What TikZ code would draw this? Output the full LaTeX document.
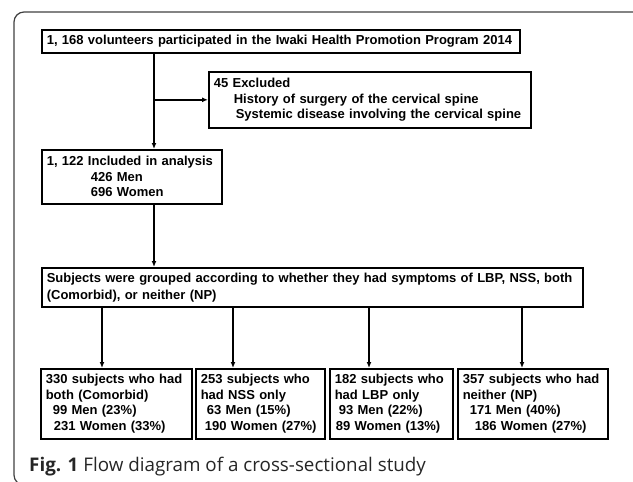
\documentclass[tikz,border=0pt]{standalone}
\usepackage{fontspec}
\setmainfont{Liberation Sans}
\newfontfamily\captionfont{Open Sans}
\usetikzlibrary{arrows.meta}

\begin{document}
\begin{tikzpicture}[x=1pt, y=-1pt,
	flowbox/.style={draw, line width=1.6pt, anchor=north west, inner xsep=5pt, inner ysep=0pt,
		align=left, font=\fontsize{13}{15.5}\selectfont\bfseries},
	groupbox/.style={flowbox, minimum height=70pt},
	flowline/.style={line width=1.4pt, -{Latex[length=6pt, width=5pt]}}]
	\useasboundingbox (0,0) rectangle (633,482);
	\draw[line width=1.2pt, draw=black!75, rounded corners=10pt] (14,12) rectangle (660,485);

	% Define volunteers, excluded and included
	\node[flowbox, text width=468pt, minimum height=23pt] (Volunteers) at (41,29)
		{1, 168 volunteers participated in the Iwaki Health Promotion Program 2014};
	\node[flowbox, text width=312pt, minimum height=56pt] (Excluded) at (208,71)
		{45 Excluded\\ \hspace*{20pt}History of surgery of the cervical spine\\
		\hspace*{22pt}Systemic disease involving the cervical spine};
	\node[flowbox, text width=170pt, minimum height=54pt] (Included) at (41,149)
		{1, 122 Included in analysis\\ \hspace*{44pt}426 Men\\ \hspace*{44pt}696 Women};
	\coordinate (TrunkX) at (154,0);

	\draw[flowline] (Volunteers.south -| TrunkX) -- (Included.north -| TrunkX);
	\draw[flowline] (Excluded.west -| TrunkX) -- (Excluded.west);

	% Define grouping
	\node[flowbox, text width=531pt, minimum height=39pt] (Grouped) at (41,267)
		{Subjects were grouped according to whether they had symptoms of LBP, NSS, both\\[1.5pt]
		(Comorbid), or neither (NP)};

	\draw[flowline] (Included.south -| TrunkX) -- (Grouped.north -| TrunkX);

	% Define the four groups
	\node[groupbox, text width=141pt] (Comorbid) at (40,368)
		{330 subjects who had\\ both (Comorbid)\\ \hspace*{7pt}99 Men (23\%)\\ \hspace*{8pt}231 Women (33\%)};
	\node[groupbox, text width=119pt] (NSSOnly) at (195,368)
		{253 subjects who\\ had NSS only\\ \hspace*{6pt}63 Men (15\%)\\ \hspace*{4pt}190 Women (27\%)};
	\node[groupbox, text width=113pt] (LBPOnly) at (329,368)
		{182 subjects who\\ had LBP only\\ \hspace*{4pt}93 Men (22\%)\\ \hspace*{1pt}89 Women (13\%)};
	\node[groupbox, text width=140pt] (Neither) at (457,368)
		{357 subjects who had\\ neither (NP)\\ \hspace*{7pt}171 Men (40\%)\\ \hspace*{12pt}186 Women (27\%)};
	\coordinate (ComorbidX) at (102,0);
	\coordinate (NSSOnlyX) at (233,0);
	\coordinate (LBPOnlyX) at (369,0);
	\coordinate (NeitherX) at (522,0);

	\draw[flowline] (Grouped.south -| ComorbidX) -- (Comorbid.north -| ComorbidX);
	\draw[flowline] (Grouped.south -| NSSOnlyX) -- (NSSOnly.north -| NSSOnlyX);
	\draw[flowline] (Grouped.south -| LBPOnlyX) -- (LBPOnly.north -| LBPOnlyX);
	\draw[flowline] (Grouped.south -| NeitherX) -- (Neither.north -| NeitherX);

	% Caption
	\node[anchor=base west, inner sep=0pt, text=black!85,
		font=\captionfont\fontsize{18.8}{22}\selectfont] (Caption) at (29,471)
		{\textbf{Fig. 1} Flow diagram of a cross-sectional study};
\end{tikzpicture}
\end{document}
